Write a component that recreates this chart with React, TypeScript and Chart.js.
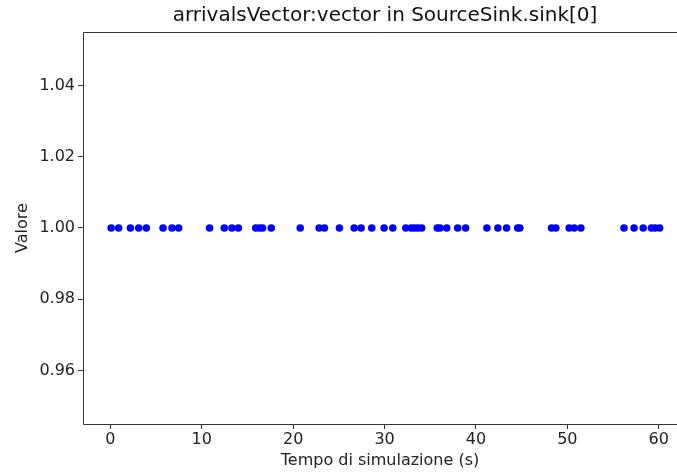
import React, { useEffect, useRef } from "react";
import { Chart, registerables } from "chart.js";

Chart.register(...registerables);

const times: number[] = [
  0.08, 0.9, 2.19, 3.1, 3.93, 5.76, 6.74, 7.46, 10.85, 12.46, 13.3, 14.0,
  15.9, 16.3, 16.65, 17.6, 20.77, 22.84, 23.42, 25.06, 26.67, 27.43, 28.6,
  29.95, 30.9, 32.32, 32.9, 33.26, 33.63, 34.06, 35.77, 36.07, 36.8, 38.0,
  38.87, 41.2, 42.4, 43.35, 44.56, 44.8, 48.27, 48.74, 50.2, 50.75, 51.48,
  56.2, 57.3, 58.3, 59.2, 59.6, 60.1,
];
const values: number[] = times.map(() => 1.0);
const xTicks: number[] = [0, 10, 20, 30, 40, 50, 60];
const yTicks: number[] = [0.96, 0.98, 1.0, 1.02, 1.04];

const TITLE = "arrivalsVector:vector in SourceSink.sink[0]";
const FONT = "'DejaVu Sans', sans-serif";

export default function App() {
  const ref = useRef<HTMLCanvasElement | null>(null);
  useEffect(() => {
    document.body.style.margin = "0";
    const canvas = ref.current!;
    const framePlugin = {
      id: "frame",
      afterDraw(chart: any) {
        const { ctx, chartArea: a } = chart;
        ctx.save();
        ctx.strokeStyle = "#333";
        ctx.lineWidth = 1;
        ctx.beginPath();
        ctx.moveTo(a.right + 20, a.top + 0.5);
        ctx.lineTo(a.left + 0.5, a.top + 0.5);
        ctx.lineTo(a.left + 0.5, a.bottom + 0.5);
        ctx.lineTo(a.right + 20, a.bottom + 0.5);
        ctx.stroke();
        ctx.fillStyle = "#111";
        ctx.font = `20px ${FONT}`;
        ctx.textAlign = "center";
        ctx.textBaseline = "middle";
        ctx.fillText(TITLE, 385, 16);
        ctx.restore();
      },
    };
    const chart = new Chart(canvas, {
      type: "scatter",
      data: {
        datasets: [
          {
            data: times.map((t, i) => ({ x: t, y: values[i] })),
            backgroundColor: "#0000ff",
            borderColor: "#0000ff",
            pointRadius: 3.8,
            borderWidth: 0,
          },
        ],
      },
      options: {
        animation: false,
        responsive: false,
        devicePixelRatio: 1,
        layout: { autoPadding: false, padding: { top: 32, right: 0, left: 0, bottom: 0 } },
        plugins: { legend: { display: false }, tooltip: { enabled: false }, title: { display: false } },
        scales: {
          x: {
            type: "linear",
            min: -3,
            max: 62,
            afterBuildTicks: (s: any) => {
              s.ticks = xTicks.map((v) => ({ value: v }));
            },
            afterFit: (s: any) => {
              s.height = 48;
              s.paddingRight = 0;
              s.paddingLeft = 0;
            },
            grid: { drawOnChartArea: false, drawTicks: true, tickLength: 5, color: "#333" },
            border: { display: false },
            ticks: { color: "#222", font: { family: FONT, size: 16 }, padding: 1, maxRotation: 0 },
            title: {
              display: true,
              text: "Tempo di simulazione (s)",
              color: "#222",
              font: { family: FONT, size: 16 },
              padding: { top: 0, bottom: 1.5 },
            },
          },
          y: {
            type: "linear",
            min: 0.945,
            max: 1.055,
            afterBuildTicks: (s: any) => {
              s.ticks = yTicks.map((v) => ({ value: v }));
            },
            afterFit: (s: any) => {
              s.width = 83;
              s.paddingTop = 0;
              s.paddingBottom = 0;
            },
            grid: { drawOnChartArea: false, drawTicks: true, tickLength: 5, color: "#333" },
            border: { display: false },
            ticks: {
              color: "#222",
              font: { family: FONT, size: 16 },
              padding: 3,
              callback: (v: any) => Number(v).toFixed(2),
            },
            title: {
              display: true,
              text: "Valore",
              color: "#222",
              font: { family: FONT, size: 16 },
              padding: { top: 13, bottom: 0 },
            },
          },
        },
      },
      plugins: [framePlugin],
    } as any);
    return () => chart.destroy();
  }, []);
  return (
    <div style={{ width: 677, height: 472 }}>
      <canvas ref={ref} width={677} height={472} style={{ display: "block", width: 677, height: 472 }} />
    </div>
  );
}
